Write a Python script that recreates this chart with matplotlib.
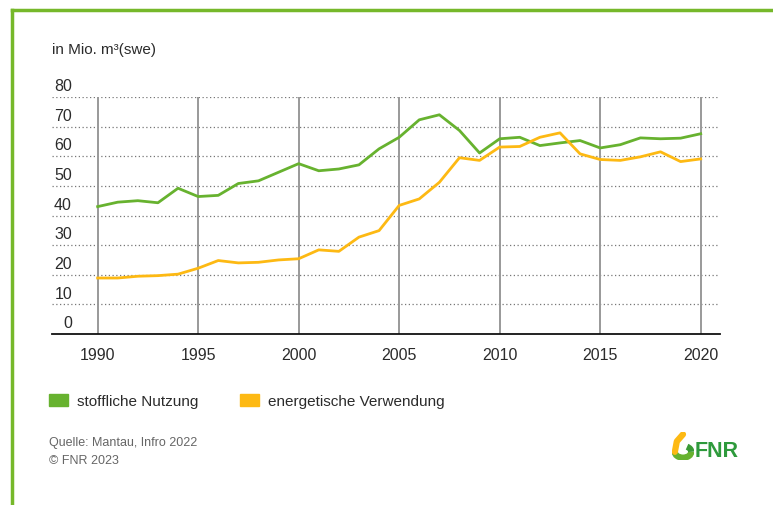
import matplotlib
matplotlib.use("Agg")
import matplotlib.pyplot as plt
from matplotlib.patches import Rectangle, Arc
from matplotlib.lines import Line2D
import matplotlib.transforms as mtransforms

plt.rcParams['font.family'] = ['Liberation Sans', 'DejaVu Sans']

years = list(range(1990, 2021))
stofflich = [43.0, 44.5, 45.0, 44.3, 49.2, 46.4, 46.8, 50.8, 51.7, 54.6,
             57.5, 55.1, 55.7, 57.1, 62.5, 66.4, 72.3, 74.0, 68.7, 61.1,
             65.9, 66.4, 63.6, 64.5, 65.3, 62.8, 63.9, 66.2, 65.9, 66.1, 67.6]
energetisch = [18.9, 18.9, 19.5, 19.7, 20.2, 22.2, 24.8, 24.0, 24.2, 25.0,
               25.4, 28.4, 27.9, 32.7, 34.9, 43.4, 45.6, 51.2, 59.5, 58.6,
               63.1, 63.3, 66.4, 67.9, 60.8, 58.9, 58.6, 59.8, 61.5, 58.2, 59.1]
y_ticks = [0, 10, 20, 30, 40, 50, 60, 70, 80]
x_ticks = [1990, 1995, 2000, 2005, 2010, 2015, 2020]
series_names = ['stoffliche Nutzung', 'energetische Verwendung']

GREEN = '#67b22f'
YELLOW = '#fdb913'
TEXT = '#2b2b2b'
W, H = 773, 506

fig = plt.figure(figsize=(W / 100, H / 100), dpi=100)

# green frame (top and left only)
fig.add_artist(Line2D([12 / W, 1], [1 - 11 / H, 1 - 11 / H], color='#76b82a', lw=2.5))
fig.add_artist(Line2D([12 / W, 12 / W], [0, 1 - 11 / H], color='#76b82a', lw=2.5))

ax = fig.add_axes([52 / W, (H - 335) / H, 668 / W, 237 / H])
ax.set_xlim(1987.73, 2020.96)
ax.set_ylim(0, 80)
for s in ['top', 'right', 'left']:
    ax.spines[s].set_visible(False)
ax.spines['bottom'].set_color('#111111')
ax.spines['bottom'].set_linewidth(1.3)
ax.set_yticks([])
ax.set_xticks(x_ticks)
ax.set_xticklabels([str(x) for x in x_ticks], fontsize=11.5, color=TEXT)
ax.tick_params(axis='x', length=0, pad=9)

for v in y_ticks[1:]:
    ax.axhline(v, color='#777777', lw=0.9, ls=(0, (1, 2)), zorder=1)
for x in x_ticks:
    ax.plot([x, x], [0, 80], color='#999999', lw=1.4, zorder=1)

ax.plot(years, stofflich, color=GREEN, lw=2, zorder=3)
ax.plot(years, energetisch, color=YELLOW, lw=2, zorder=3)

trans = mtransforms.blended_transform_factory(fig.transFigure, ax.transData)
for v in y_ticks:
    ax.text(72 / W, v + 1.3, str(v), transform=trans, ha='right', va='bottom',
            fontsize=11.5, color=TEXT)

fig.text(52 / W, 1 - 50 / H, 'in Mio. m³(swe)', fontsize=11, color=TEXT, va='center')

# legend
for i, (name, col) in enumerate(zip(series_names, [GREEN, YELLOW])):
    x0 = [49, 240][i]
    fig.add_artist(Rectangle((x0 / W, 1 - 407 / H), 19 / W, 12 / H, color=col,
                             transform=fig.transFigure))
    fig.text((x0 + 28) / W, 1 - 402 / H, name, fontsize=11, color=TEXT, va='center')

fig.text(49 / W, 1 - 443 / H, 'Quelle: Mantau, Infro 2022', fontsize=9, color='#666666', va='center')
fig.text(49 / W, 1 - 461 / H, '© FNR 2023', fontsize=9, color='#666666', va='center')

# logo
fig.text(695 / W, 1 - 452 / H, 'FNR', fontsize=15.5, fontweight='bold', color='#2e9a3c',
         va='center')
lax = fig.add_axes([672 / W, (H - 461) / H, 22 / W, 28 / H])
lax.set_xlim(0, 1)
lax.set_ylim(0, 1.2)
lax.axis('off')
lax.add_patch(Arc((0.5, 0.35), 0.75, 0.5, theta1=180, theta2=360, color=GREEN, lw=4.5))
lax.add_patch(Arc((0.5, 0.35), 0.75, 0.5, theta1=0, theta2=50, color='#3a9a35', lw=4.5))
lax.plot([0.13, 0.22, 0.5], [0.35, 0.8, 1.1], color=YELLOW, lw=4.5, solid_capstyle='round')

fig.savefig('out.png', dpi=100)
